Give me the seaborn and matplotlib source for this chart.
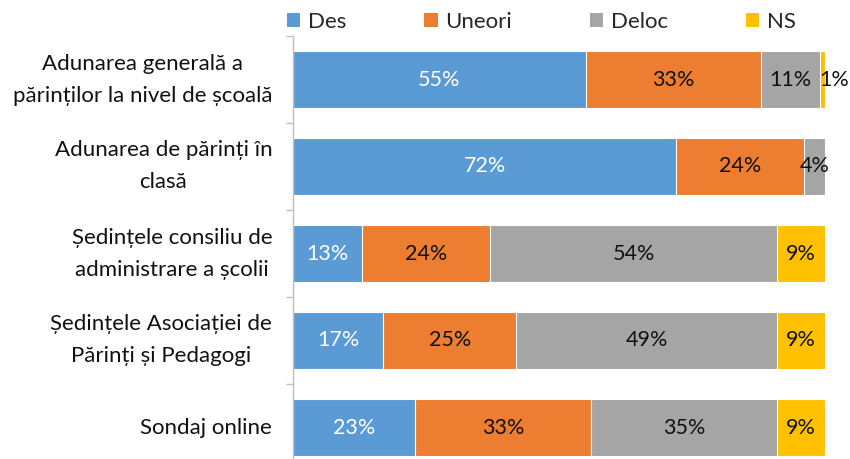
import matplotlib
matplotlib.use('Agg')
import matplotlib.pyplot as plt
from matplotlib.patches import Patch
import numpy as np
import pandas as pd
import seaborn as sns

# categories (top to bottom) and the four answer series, in percent
categories = ['Adunarea generală a\npărinților la nivel de școală',
              'Adunarea de părinți în\nclasă',
              'Ședințele consiliu de\nadministrare a școlii',
              'Ședințele Asociației de\nPărinți și Pedagogi',
              'Sondaj online']
des = [55, 72, 13, 17, 23]
uneori = [33, 24, 24, 25, 33]
deloc = [11, 4, 54, 49, 35]
ns = [1, 0, 9, 9, 9]

series = ['Des', 'Uneori', 'Deloc', 'NS']
colors = ['#5B9BD5', '#ED7D31', '#A5A5A5', '#FFC000']
text_colors = ['white', '#111111', '#111111', '#111111']

df = pd.DataFrame({'cat': categories, 'Des': des, 'Uneori': uneori,
                   'Deloc': deloc, 'NS': ns})
# cumulative sums so the stacked bars can be drawn one over the other
cum = df[series].cumsum(axis=1)

sns.set_style('white')
plt.rcParams['font.family'] = ['Lato', 'DejaVu Sans']

fig = plt.figure(figsize=(8.5, 4.59), dpi=100)
ax = fig.add_axes([293 / 850, -12 / 459, 532 / 850, 435 / 459])

# draw from the longest cumulative bar down to the shortest
for s, c in reversed(list(zip(series, colors))):
    sns.barplot(x=cum[s], y=df['cat'], orient='h', color=c, width=0.66,
                edgecolor='white', linewidth=0.8, saturation=1, ax=ax)

# percentage labels in the middle of each segment
for i in range(len(categories)):
    start = 0
    for s, tc in zip(series, text_colors):
        v = df[s][i]
        if v > 0:
            if v < 3:
                ax.text(start, i, f'{v}%', ha='left', va='center',
                        fontsize=15.5, color=tc, clip_on=False)
            else:
                ax.text(start + v / 2, i, f'{v}%', ha='center', va='center',
                        fontsize=15.5, color=tc)
        start += v

ax.set_xlim(0, 100)
ax.set_ylim(len(categories) - 0.5, -0.5)
ax.set_xlabel('')
ax.set_ylabel('')
ax.set_xticks([])

ax.set_yticks(range(len(categories)))
ax.set_yticklabels(categories, fontsize=16, multialignment='center',
                   linespacing=1.75, color='#111111', va='center')
ax.set_yticks(np.arange(-0.5, len(categories), 1), minor=True)
ax.tick_params(axis='y', which='major', length=0, pad=15)
ax.tick_params(axis='y', which='minor', length=5, width=1, color='#bfbfbf',
               left=True)

for side in ['top', 'right', 'bottom']:
    ax.spines[side].set_visible(False)
ax.spines['left'].set_color('#bfbfbf')
ax.spines['left'].set_linewidth(1)

handles = [Patch(facecolor=c, edgecolor='none', label=s)
           for s, c in zip(series, colors)]
fig.legend(handles=handles, loc='center left', bbox_to_anchor=(287 / 850, 1 - 22 / 459),
           ncol=4, frameon=False, fontsize=16, handlelength=0.6,
           handleheight=0.6, handletextpad=0.35, columnspacing=3.5,
           borderaxespad=0, borderpad=0)

fig.savefig('out.png', dpi=100)
